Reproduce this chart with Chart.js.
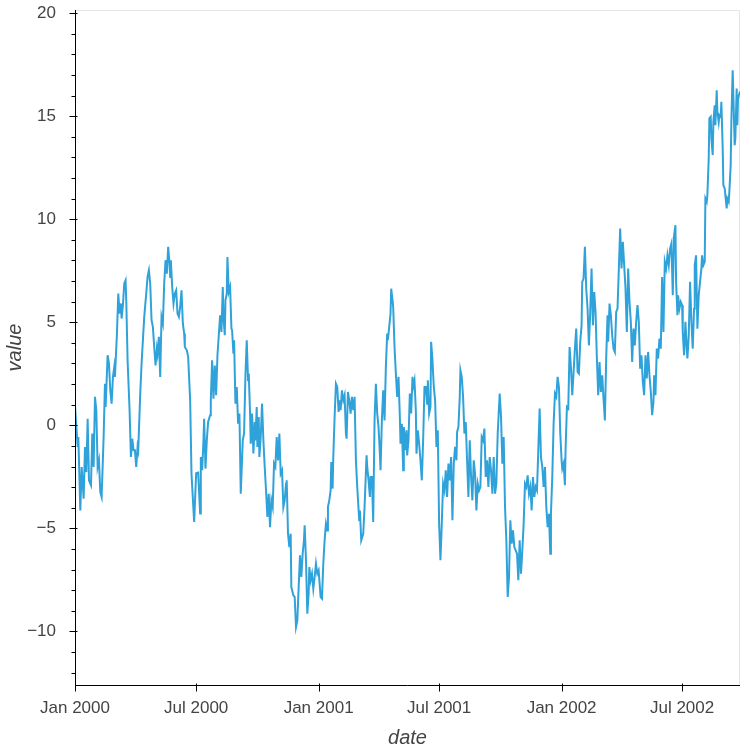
<!DOCTYPE html>
<html>
<head>
<meta charset="utf-8">
<script src="https://cdn.jsdelivr.net/npm/chart.js@4.4.0/dist/chart.umd.min.js"></script>
<style>
html,body{margin:0;padding:0;background:#fff;}
#wrap{width:750px;height:750px;}
</style>
</head>
<body>
<div id="wrap"><canvas id="c" width="750" height="750"></canvas></div>
<script>
// Day offsets since 2000-01-01 (the "date" categories) and the series values
const startDate = Date.UTC(2000, 0, 1);
const days = [
0,4,5,8,10,13,15,17,19,21,24,26,28,30,32,34,36,38,40,43,45,46,49,51,53,55,57,59,60,63,65,67,69,70,72,74,76,77,79,82,84,86,88,90,92,94,95,98,100,104,107,109,111,113,115,117,119,121,123,124,126,128,130,132,134,136,138,140,142,143,144,146,148,150,152,154,156,158,160,162,164,165,168,170,173,
175,179,182,185,188,189,191,193,194,196,198,200,203,204,206,208,210,212,214,216,218,220,222,223,225,226,228,229,231,233,235,236,238,239,241,243,245,247,249,252,254,256,258,260,261,263,264,266,268,270,271,273,274,276,277,279,281,283,285,287,289,291,293,295,297,299,301,303,305,307,309,311,313,315,317,318,320,322,324,325,328,330,332,334,336,338,340,342,344,345,347,349,351,352,354,356,358,360,362,364,
366,369,371,373,375,377,379,380,382,384,385,387,388,390,392,394,396,398,399,401,403,405,407,408,410,412,414,416,418,420,422,424,427,428,430,433,435,438,439,441,443,444,446,448,450,452,454,456,458,459,461,463,465,467,469,470,472,474,475,477,478,480,482,484,486,488,489,491,493,494,496,498,499,501,503,505,507,508,510,512,513,515,517,519,521,523,525,527,529,530,532,534,535,537,539,541,543,545,
547,549,551,553,555,557,559,561,563,565,567,569,571,573,574,576,578,579,581,583,585,587,589,591,593,595,597,599,601,603,605,607,609,611,613,615,617,619,621,623,625,627,629,631,633,635,638,640,642,644,646,648,650,652,654,656,658,660,662,664,666,668,670,672,674,676,678,680,682,684,686,688,690,692,694,696,698,700,702,704,706,708,710,712,714,715,717,719,721,723,725,727,729,731,
732,734,736,737,739,741,743,745,747,749,751,753,755,757,759,761,762,764,766,768,770,772,774,776,778,780,782,784,786,788,790,792,794,796,798,800,801,803,805,807,809,811,813,815,817,819,821,823,825,827,829,831,833,835,837,839,841,843,845,847,849,851,853,855,857,859,861,863,865,867,869,870,872,874,876,878,880,882,884,886,888,890,892,894,896,898,900,902,
903,905,906,908,910,912,913,915,917,919,920,922,924,926,928,930,931,933,935,937,939,941,942,944,946,947,949,950,952,953,955,956,958,959,961,962,964,965,967,968,970,971,973,974,976,977,979,980,982,983,985,986,988,989,991,992,994,995,996,999
];
const values = [
0.97,-1.05,-0.57,-4.13,-2.02,-3.56,-1.05,-2.27,0.32,-2.67,-2.91,-0.40,-2.02,1.38,0.73,-2.02,-1.70,-3.24,-3.48,-0.57,2.02,0.89,3.40,2.99,1.70,1.05,2.35,2.83,2.35,4.45,6.39,5.42,5.91,5.18,5.83,6.88,7.04,6.07,3.16,0.73,-1.54,-0.65,-1.21,-1.21,-2.02,-1.05,-1.21,1.54,2.99,5.26,6.39,7.20,7.52,6.88,5.10,4.77,3.80,2.91,3.72,3.48,4.29,2.35,5.26,4.94,6.88,8.01,7.36,8.66,7.85,7.20,8.01,6.72,5.91,6.39,6.55,5.42,5.26,5.74,6.55,4.94,4.45,3.80,3.64,3.32,1.21,
-2.35,-4.69,-2.33,-2.30,-4.28,-1.54,-2.18,-0.73,0.32,-2.10,-0.73,0.16,0.49,1.21,3.16,1.29,2.90,1.46,3.40,4.37,5.34,4.53,6.71,5.26,4.37,6.07,6.39,8.17,6.47,6.71,4.69,4.60,3.48,4.13,1.05,1.86,0.08,0.57,-3.32,-0.73,-0.40,2.35,4.13,2.18,2.51,0.57,-0.89,0.57,-1.37,0.16,-0.73,0.89,-1.05,0.40,-1.54,-0.57,1.05,-0.73,-2.02,-3.16,-4.45,-3.32,-4.94,-3.64,-3.97,-1.86,-2.02,-0.57,-1.70,-0.40,-2.35,-2.18,-3.97,-3.64,-2.83,-2.67,-5.26,-5.91,-5.26,-7.85,-8.25,-8.33,-9.79,-9.47,-7.85,-6.31,-7.36,-6.23,-5.58,-4.85,-6.55,-9.14,-8.17,-6.88,-7.52,-7.20,-7.93,-7.36,-6.71,-7.20,
-7.04,-8.33,-8.41,-6.72,-5.58,-4.77,-5.10,-3.96,-3.64,-3.16,-1.78,-3.07,-1.54,0.40,2.02,1.86,0.65,1.21,0.73,1.70,1.21,1.46,-0.40,-0.65,1.62,1.21,0.57,1.38,0.73,1.38,-1.70,-2.99,-4.61,-4.13,-5.58,-5.26,-3.96,-1.46,-2.02,-2.67,-3.48,-2.51,-2.51,-4.69,0.24,2.02,0.57,-0.08,-1.38,-2.18,0.24,1.70,0.24,2.83,4.45,4.13,4.77,5.42,6.63,6.07,5.74,3.80,2.51,1.38,2.35,0.40,-0.89,0.08,-2.18,-0.08,-1.21,-0.24,-1.46,-0.73,1.54,0.57,2.35,1.86,2.18,0.73,-1.38,-0.24,-0.89,-1.70,-2.67,-0.73,1.86,1.86,1.05,2.18,0.57,0.89,4.05,3.16,1.86,1.21,-1.05,-0.24,
-4.77,-6.55,-4.77,-2.83,-3.16,-2.18,-3.48,-1.86,-2.67,-1.54,-4.61,-1.86,-1.05,-1.70,-0.32,-0.08,1.38,2.67,2.35,1.38,-0.40,0.16,-1.70,-3.48,-0.73,-2.51,-3.64,-1.70,-2.35,-4.13,-2.83,-3.16,-2.99,-0.57,-0.73,-0.16,-2.51,-1.70,-2.99,-1.54,-2.18,-3.32,-1.54,-3.32,-2.83,-0.40,1.54,0.40,-1.86,-0.57,-3.96,-5.58,-8.33,-7.36,-4.61,-5.74,-5.10,-5.91,-6.07,-6.23,-7.52,-5.58,-7.20,-6.07,-4.77,-2.83,-2.99,-2.43,-3.32,-2.99,-4.13,-2.51,-3.48,-2.99,-3.16,-1.21,0.81,-1.54,-2.02,-2.99,-2.02,-3.96,-4.94,-4.29,-6.23,-4.29,-2.51,0.08,1.54,1.38,2.35,1.86,-0.40,-1.70,
-2.10,-1.86,-2.91,-1.13,0.89,0.81,3.80,2.83,1.46,2.59,3.72,4.69,2.59,2.51,4.05,4.85,6.96,7.12,8.66,6.63,5.66,3.88,5.50,7.61,4.85,6.47,5.50,3.24,1.46,3.07,1.62,2.43,1.29,0.24,3.24,5.34,4.05,5.91,5.34,4.37,3.72,3.56,5.50,5.66,7.61,9.55,7.61,8.90,7.77,6.63,4.53,7.61,5.99,5.02,3.07,4.69,3.88,5.02,5.83,5.02,2.75,3.40,2.10,1.46,3.40,2.27,3.56,2.43,1.62,0.49,1.13,2.43,1.46,3.72,3.24,4.21,3.72,7.20,4.53,7.93,7.61,8.25,7.77,8.58,8.82,6.31,9.22,9.71,
6.96,5.34,6.31,5.66,5.99,5.83,4.53,3.40,5.02,3.72,3.24,4.37,6.96,5.02,3.72,5.66,7.77,8.25,4.69,6.31,6.96,7.61,8.25,7.77,7.93,11.00,10.84,11.17,12.94,14.89,14.97,13.92,13.11,14.72,15.53,14.56,16.26,15.21,14.72,15.05,14.97,15.70,13.43,11.65,11.49,11.17,10.52,11.00,10.84,11.33,12.62,14.72,17.23,16.02,13.59,13.92,16.34,14.56,15.86,16.20
];
// Axis tick labels
const xTickLabels = ['Jan 2000', 'Jul 2000', 'Jan 2001', 'Jul 2001', 'Jan 2002', 'Jul 2002'];
const xTickDates = [[2000,0,1],[2000,6,1],[2001,0,1],[2001,6,1],[2002,0,1],[2002,6,1]];
const yTickValues = [-10, -5, 0, 5, 10, 15, 20];

const DAY = 86400000;
const xTickDays = xTickDates.map(d => Math.round((Date.UTC(d[0], d[1], d[2]) - startDate) / DAY));
const points = days.map((d, i) => ({x: d, y: values[i]}));

const FONT = "'Liberation Sans', Arial, Helvetica, sans-serif";
const TXT = '#444444';

const axesPlugin = {
  id: 'bokehAxes',
  beforeDatasetsDraw(chart) {
    const {ctx, chartArea: a} = chart;
    ctx.save();
    ctx.strokeStyle = '#e5e5e5';
    ctx.lineWidth = 1;
    ctx.beginPath();
    ctx.moveTo(a.left, a.top + 0.5);
    ctx.lineTo(a.right - 0.5, a.top + 0.5);
    ctx.lineTo(a.right - 0.5, a.bottom);
    ctx.stroke();
    ctx.restore();
  },
  afterDatasetsDraw(chart) {
    const {ctx, chartArea: a, scales: {x, y}} = chart;
    ctx.save();
    ctx.strokeStyle = '#000';
    ctx.lineWidth = 1;
    const L = Math.round(a.left) + 0.5, B = Math.round(a.bottom) + 0.5;
    ctx.beginPath();
    ctx.moveTo(L, a.top);
    ctx.lineTo(L, B);
    ctx.lineTo(a.right, B);
    ctx.stroke();
    ctx.beginPath();
    for (let v = Math.ceil(y.min); v <= Math.floor(y.max); v++) {
      const py = Math.round(y.getPixelForValue(v)) + 0.5;
      const major = v % 5 === 0;
      ctx.moveTo(L - (major ? 6 : 4), py);
      ctx.lineTo(L + (major ? 2 : 0), py);
    }
    xTickDays.forEach(d => {
      const px = Math.round(x.getPixelForValue(d)) + 0.5;
      ctx.moveTo(px, B - 2);
      ctx.lineTo(px, B + 6);
    });
    ctx.stroke();
    ctx.restore();
  }
};

new Chart(document.getElementById('c'), {
  type: 'line',
  data: {
    datasets: [{
      data: points,
      borderColor: '#30a2da',
      borderWidth: 2,
      pointRadius: 0,
      tension: 0,
      fill: false
    }]
  },
  options: {
    responsive: false,
    animation: false,
    devicePixelRatio: 1,
    layout: {padding: {top: 10, right: 10, left: 0, bottom: 0}},
    plugins: {legend: {display: false}, tooltip: {enabled: false}},
    scales: {
      x: {
        type: 'linear',
        min: 0,
        max: 999,
        grid: {display: false},
        border: {display: false},
        afterBuildTicks: s => { s.ticks = xTickDays.map(v => ({value: v})); },
        afterFit: s => { s.height = 65; s.paddingLeft = 0; s.paddingRight = 0; },
        ticks: {
          autoSkip: false,
          maxRotation: 0,
          padding: 5,
          color: TXT,
          font: {family: FONT, size: 17},
          callback: v => xTickLabels[xTickDays.indexOf(v)]
        },
        title: {
          display: true,
          text: 'date',
          color: TXT,
          padding: {top: 0, bottom: 0},
          font: {family: FONT, size: 20, style: 'italic'}
        }
      },
      y: {
        type: 'linear',
        min: -12.6,
        max: 20.15,
        grid: {display: false},
        border: {display: false},
        afterBuildTicks: s => { s.ticks = yTickValues.map(v => ({value: v})); },
        afterFit: s => { s.width = 75; s.paddingTop = 0; s.paddingBottom = 0; },
        ticks: {
          autoSkip: false,
          padding: 11,
          color: TXT,
          font: {family: FONT, size: 17},
          callback: v => (v < 0 ? '\u2212' + Math.abs(v) : String(v))
        },
        title: {
          display: true,
          text: 'value',
          color: TXT,
          padding: {top: 3, bottom: 0},
          font: {family: FONT, size: 20, style: 'italic'}
        }
      }
    }
  },
  plugins: [axesPlugin]
});
</script>
</body>
</html>
